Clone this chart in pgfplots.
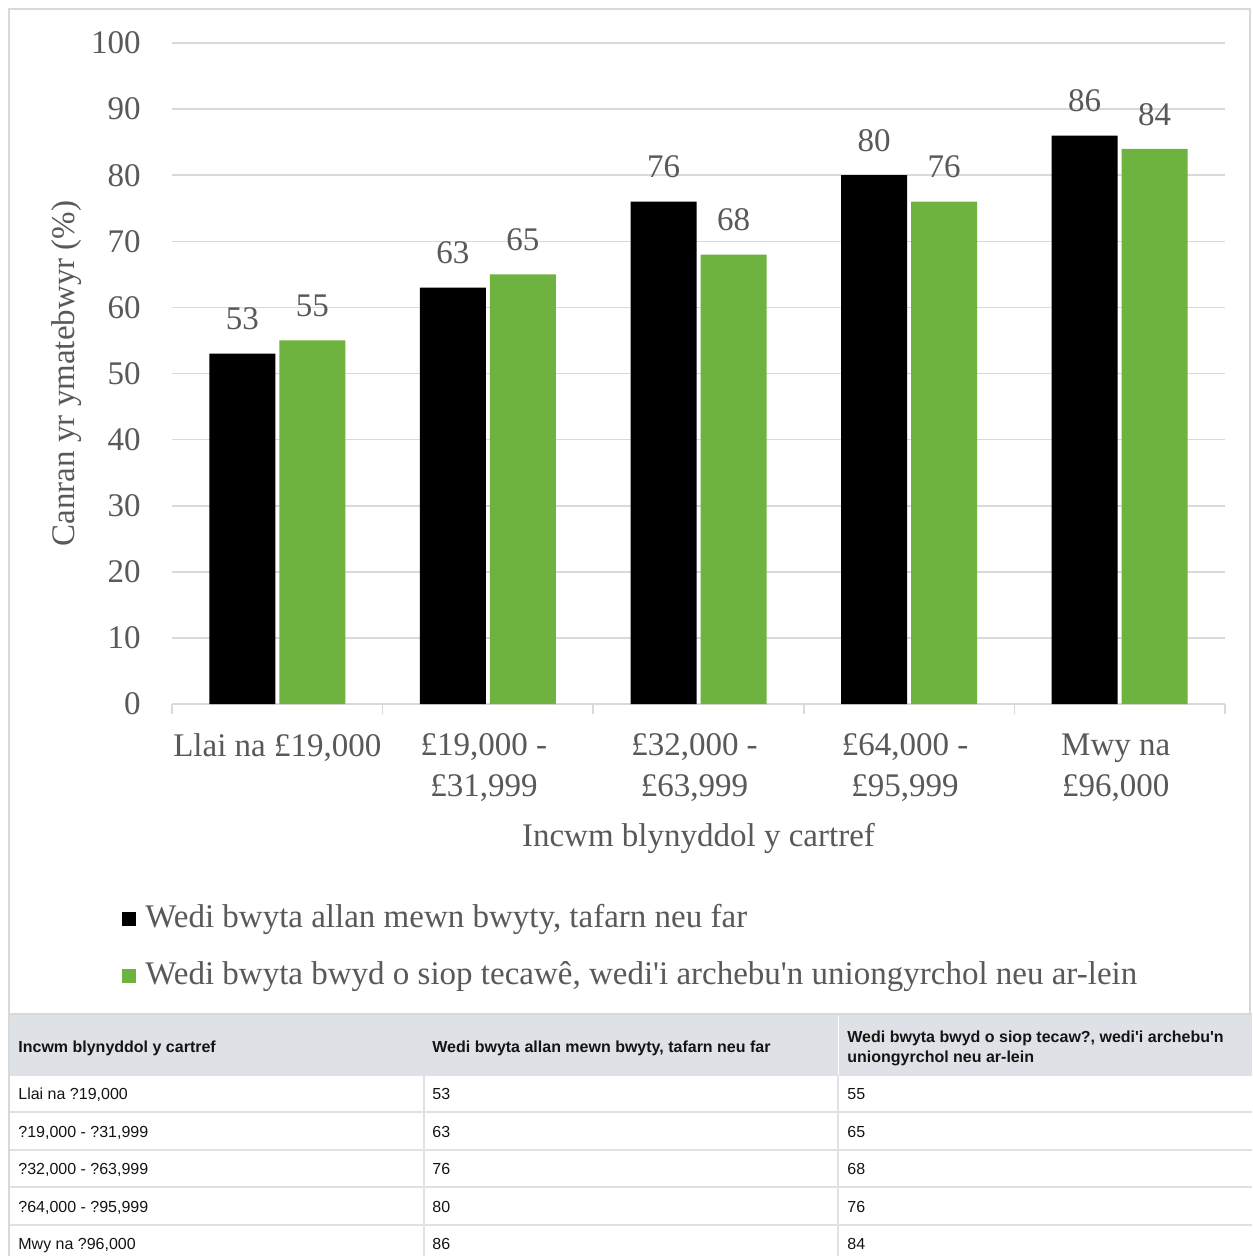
\documentclass[border=0pt]{standalone}
\usepackage{pgfplots}
\pgfplotsset{compat=1.18}
\usepackage{fontspec}
\setmainfont{Liberation Serif}
\newfontfamily\arial{Liberation Sans}
\definecolor{txt}{HTML}{595959}
\definecolor{gridc}{HTML}{D9D9D9}
\definecolor{grn}{RGB}{110,178,64}
\definecolor{hdr}{RGB}{222,226,230}
\definecolor{tbl}{RGB}{20,20,20}
\newcommand{\cf}{\fontsize{16.5}{20.5}\selectfont}
\newcommand{\tf}{\arial\fontsize{8}{10}\selectfont}
\newcommand{\q}{\textquotesingle}
\begin{document}
\begin{tikzpicture}[x=0.5pt,y=-0.5pt]
\useasboundingbox (0,0) rectangle (1252,1256);
\fill[white] (0,0) rectangle (1252,1256);
\draw[gridc, line width=0.8pt] (9,9) rectangle (1250,1014);
\begin{axis}[
  at={(86pt,-352pt)}, anchor=south west,
  scale only axis, width=526.5pt, height=330.5pt,
  xmin=-0.5, xmax=4.5, ymin=0, ymax=100,
  /pgf/number format/assume math mode=true,
  axis x line*=bottom, axis y line*=left,
  x axis line style={gridc, line width=0.8pt},
  y axis line style={draw=none},
  xtick={0,1,2,3,4},
  xticklabels={{Llai na £19,000}, {£19,000 -\hspace*{4pt}\\£31,999\hspace*{4pt}}, {£32,000 -\hspace*{4pt}\\£63,999\hspace*{4pt}}, {£64,000 -\hspace*{4pt}\\£95,999\hspace*{4pt}}, {Mwy na\hspace*{4pt}\\£96,000\hspace*{4pt}}},
  minor xtick={-0.5,0.5,1.5,2.5,3.5,4.5},
  major tick length=0pt, minor tick length=5pt,
  tick align=outside,
  minor tick style={gridc, line width=0.8pt},
  ytick={0,10,...,100},
  ymajorgrids, grid style={gridc, line width=0.8pt},
  ytick style={draw=none},
  yticklabel style={font=\cf, text=txt, anchor=east, inner sep=0pt, xshift=-15.5pt},
  xticklabel style={font=\cf, text=txt, align=center, anchor=north, inner sep=0pt, yshift=-14.5pt},
  ybar, bar width=33pt,
  nodes near coords, nodes near coords style={font=\cf, text=txt, anchor=south, inner sep=0pt, yshift=11.5pt},
  ylabel={Canran yr ymatebwyr (\%)}, ylabel style={font=\cf, text=txt, at={(axis description cs:-0.1005,0.5)}, anchor=center},
  xlabel={Incwm blynyddol y cartref}, xlabel style={font=\cf, text=txt, at={(axis description cs:0.5,-0.204)}, anchor=center},
  legend cell align=left,
  legend style={at={(axis description cs:-0.0475,-0.301)}, anchor=north west, draw=none, fill=none, font=\cf, text=txt, inner sep=0pt, row sep=12.5pt, column sep=0pt, nodes={inner sep=0pt, text height=12pt, text depth=4pt}, /tikz/every odd column/.append style={column sep=4.5pt}},
  legend image code/.code={\fill[#1] (0pt,-3.5pt) rectangle (7pt,3.5pt);},
  clip=false,
]
\addplot[fill=black, draw=none, bar shift=-17.5pt] coordinates {(0,53) (1,63) (2,76) (3,80) (4,86)};
\addplot[fill=grn, draw=none, bar shift=17.5pt] coordinates {(0,55) (1,65) (2,68) (3,76) (4,84)};
\legend{{Wedi bwyta allan mewn bwyty, tafarn neu far}, {Wedi bwyta bwyd o siop tecawê, wedi\q i archebu\q n uniongyrchol neu ar-lein}}
\end{axis}
% table
\fill[hdr] (9,1014) rectangle (1252,1075);
\foreach \yy in {1075,1112,1150,1187,1225} \draw[hdr, line width=1pt] (9,\yy) -- (1252,\yy);
\draw[hdr, line width=1pt] (424,1075) -- (424,1256);
\draw[hdr, line width=1pt] (838,1075) -- (838,1256);
\draw[white, line width=0.4pt] (838,1016) -- (838,1075);
\draw[gridc, line width=0.8pt] (9,1014) -- (9,1256);
\draw[gridc, line width=0.8pt] (9,1014) -- (1252,1014);
\begin{scope}[every node/.style={inner sep=0pt, anchor=base west, text=tbl, font=\tf}]
\node at (18,1052) {\bfseries Incwm blynyddol y cartref};
\node at (432,1052) {\bfseries Wedi bwyta allan mewn bwyty, tafarn neu far};
\node at (847,1042) {\bfseries Wedi bwyta bwyd o siop tecaw?, wedi\q i archebu\q n};
\node at (847,1062) {\bfseries uniongyrchol neu ar-lein};
\node at (18,1099) {Llai na ?19,000};
\node at (18,1137) {?19,000 - ?31,999};
\node at (18,1174) {?32,000 - ?63,999};
\node at (18,1212) {?64,000 - ?95,999};
\node at (18,1249) {Mwy na ?96,000};
\node at (432,1099) {53};
\node at (432,1137) {63};
\node at (432,1174) {76};
\node at (432,1212) {80};
\node at (432,1249) {86};
\node at (847,1099) {55};
\node at (847,1137) {65};
\node at (847,1174) {68};
\node at (847,1212) {76};
\node at (847,1249) {84};
\end{scope}
\end{tikzpicture}
\end{document}
